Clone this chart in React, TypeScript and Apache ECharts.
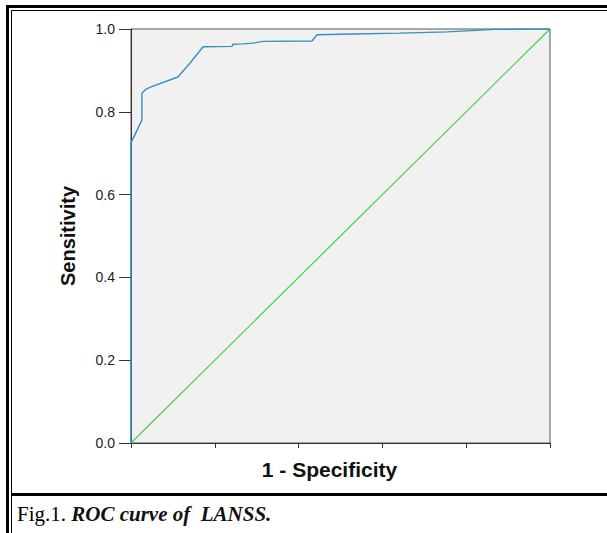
import React, { useEffect, useRef } from "react";
import * as echarts from "echarts";

const fpr = [0, 0, 0.026, 0.026, 0.036, 0.048, 0.112, 0.141, 0.172, 0.241, 0.243, 0.267, 0.291, 0.315, 0.432, 0.444, 0.53, 0.642, 0.754, 0.869, 1];
const tpr = [0, 0.725, 0.78, 0.845, 0.855, 0.86, 0.884, 0.918, 0.957, 0.958, 0.963, 0.964, 0.966, 0.97, 0.971, 0.986, 0.988, 0.99, 0.993, 0.999, 1];
const refX = [0, 1];
const refY = [0, 1];
const yTicks = ["0.0", "0.2", "0.4", "0.6", "0.8", "1.0"];
const xTitle = "1 - Specificity";
const yTitle = "Sensitivity";
const captionLead = "Fig.1. ";
const captionBody = "ROC curve of  LANSS.";

export default function App() {
  const ref = useRef<HTMLDivElement>(null);
  useEffect(() => {
    if (!ref.current) return;
    const chart = echarts.init(ref.current, undefined, { renderer: "svg" });
    const sans = "'Liberation Sans', Arial, sans-serif";
    const serif = "'Liberation Serif', 'Times New Roman', serif";
    chart.setOption({
      animation: false,
      backgroundColor: "#ffffff",
      grid: {
        left: 131,
        right: 57,
        top: 29,
        bottom: 90,
        show: true,
        backgroundColor: "#f1f1f1",
        borderColor: "#555",
        borderWidth: 1,
      },
      xAxis: {
        type: "value",
        min: 0,
        max: 1,
        interval: 0.2,
        splitLine: { show: false },
        axisLine: { show: true, lineStyle: { color: "#333", width: 1 } },
        axisTick: { show: true, length: 5, lineStyle: { color: "#333" } },
        axisLabel: { show: false },
        name: xTitle,
        nameLocation: "middle",
        nameGap: 16,
        nameTextStyle: {
          fontFamily: sans,
          fontWeight: "bold",
          fontSize: 21,
          color: "#111",
          verticalAlign: "top",
          padding: [0, 22, 0, 0],
        },
      },
      yAxis: {
        type: "value",
        min: 0,
        max: 1,
        interval: 0.2,
        splitLine: { show: false },
        axisLine: { show: true, lineStyle: { color: "#333", width: 1 } },
        axisTick: { show: true, length: 12, lineStyle: { color: "#333" } },
        axisLabel: {
          margin: 16,
          fontFamily: sans,
          fontSize: 14,
          color: "#222",
          formatter: (v: number) => yTicks[Math.round(v * 5)],
        },
        name: yTitle,
        nameLocation: "middle",
        nameGap: 53,
        nameRotate: 90,
        nameTextStyle: { fontFamily: sans, fontWeight: "bold", fontSize: 20, color: "#111" },
      },
      series: [
        {
          type: "line",
          data: refX.map((x, i) => [x, refY[i]]),
          showSymbol: false,
          lineStyle: { color: "#3cd63c", width: 1.2 },
          z: 2,
        },
        {
          type: "line",
          data: fpr.map((x, i) => [x, tpr[i]]),
          showSymbol: false,
          lineStyle: { color: "#3a8fc2", width: 1.4 },
          z: 3,
        },
      ],
      graphic: [
        { type: "line", shape: { x1: 6, y1: 6.5, x2: 607, y2: 6.5 }, style: { stroke: "#000", lineWidth: 3 } },
        { type: "line", shape: { x1: 7.5, y1: 5, x2: 7.5, y2: 533 }, style: { stroke: "#000", lineWidth: 3 } },
        { type: "line", shape: { x1: 11, y1: 10.5, x2: 607, y2: 10.5 }, style: { stroke: "#000", lineWidth: 1 } },
        { type: "line", shape: { x1: 11.5, y1: 10, x2: 11.5, y2: 533 }, style: { stroke: "#000", lineWidth: 1 } },
        { type: "line", shape: { x1: 12, y1: 494.5, x2: 607, y2: 494.5 }, style: { stroke: "#000", lineWidth: 3 } },
        {
          type: "text",
          left: 17,
          top: 503,
          style: {
            rich: {
              a: { fontFamily: serif, fontSize: 21, fill: "#000" },
              b: { fontFamily: serif, fontSize: 21, fontStyle: "italic", fontWeight: "bold", fill: "#111" },
            },
            text: `{a|${captionLead}}{b|${captionBody}}`,
          },
        },
      ],
    });
    return () => chart.dispose();
  }, []);
  return <div ref={ref} style={{ position: "fixed", left: 0, top: 0, width: 607, height: 533 }} />;
}
